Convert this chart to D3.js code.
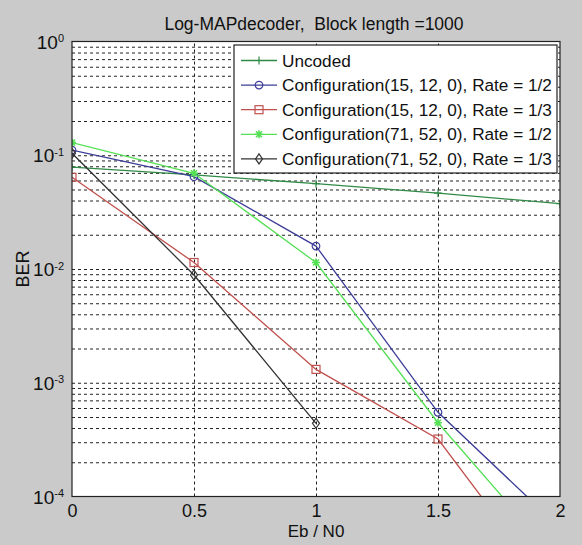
<!DOCTYPE html>
<html><head><meta charset="utf-8">
<script src="https://cdn.jsdelivr.net/npm/d3@7"></script>
<style>
html,body{margin:0;padding:0;background:#cacaca;}
svg{display:block;font-family:"Liberation Sans",Arial,sans-serif;}
</style></head><body>
<svg id="c" width="582" height="545"></svg>
<script>
const xValues = [0, 0.5, 1, 1.5, 2];
const xTicks = [0, 0.5, 1, 1.5, 2];
const yTickExps = [0, -1, -2, -3, -4];
const seriesNames = [
  "Uncoded",
  "Configuration(15, 12, 0), Rate = 1/2",
  "Configuration(15, 12, 0), Rate = 1/3",
  "Configuration(71, 52, 0), Rate = 1/2",
  "Configuration(71, 52, 0), Rate = 1/3"
];
const uncoded      = [0.0786, 0.0671, 0.0563, 0.0464, 0.0375];
const cfg15r12     = [0.111, 0.0648, 0.0159, 5.5e-4, 5.3e-5];
const cfg15r13     = [0.064, 0.0114, 0.00131, 3.2e-4, 1.2e-5];
const cfg71r12     = [0.129, 0.0694, 0.0114, 4.45e-4, 2.6e-5];
const cfg71r13     = [0.104, 0.00886, 4.4e-4];
const seriesColors = ["#2f8a45", "#3d3d99", "#c0504d", "#55e055", "#333333"];
const seriesMarkers = ["plus", "circle", "square", "star", "diamond"];
const seriesValues = [uncoded, cfg15r12, cfg15r13, cfg71r12, cfg71r13];

const L = 72, R = 560, T = 41.5, B = 496.5;
const svg = d3.select("#c");
const x = d3.scaleLinear().domain([0, 2]).range([L, R]);
const y = d3.scaleLog().domain([1e-4, 1]).range([B, T]);

svg.append("rect").attr("x", L).attr("y", T).attr("width", R - L).attr("height", B - T).attr("fill", "#fff");

const minor = [];
for (let d = -4; d < 0; d++) for (let k = 1; k <= 9; k++) minor.push(k * Math.pow(10, d));

const gy = svg.append("g").attr("transform", `translate(${L},0)`)
  .call(d3.axisLeft(y).tickValues(minor.filter(v => v > 1e-4)).tickSize(-(R - L)).tickFormat(""));
gy.select(".domain").remove();
gy.selectAll("line").attr("stroke", "#222").attr("stroke-width", 1).attr("stroke-dasharray", "3,3");

const gx = svg.append("g").attr("transform", `translate(0,${B})`)
  .call(d3.axisBottom(x).tickValues([0.5, 1, 1.5]).tickSize(-(B - T)).tickFormat(""));
gx.select(".domain").remove();
gx.selectAll("line").attr("stroke", "#222").attr("stroke-width", 1).attr("stroke-dasharray", "3,3");

svg.append("clipPath").attr("id", "clip").append("rect")
  .attr("x", L).attr("y", T).attr("width", R - L).attr("height", B - T);

function marker(g, type, cx, cy, color) {
  const s = g.append("g").attr("transform", `translate(${cx},${cy})`)
    .attr("fill", "none").attr("stroke", color).attr("stroke-width", 1.2);
  if (type === "circle") s.append("circle").attr("r", 3.8);
  else if (type === "square") s.append("rect").attr("x", -4).attr("y", -4).attr("width", 8).attr("height", 8);
  else if (type === "diamond") s.append("path").attr("d", "M0,-5L3.5,0L0,5L-3.5,0Z");
  else if (type === "plus") s.append("path").attr("d", "M-4,0H4M0,-4V4");
  else if (type === "star") s.append("path").attr("d", "M-4,0H4M0,-4V4M-3,-3L3,3M-3,3L3,-3").attr("stroke-width", 1.6);
}

const line = d3.line().x(d => x(d[0])).y(d => y(d[1]));
const plot = svg.append("g").attr("clip-path", "url(#clip)");
seriesValues.forEach((vals, i) => {
  const pts = vals.map((v, j) => [xValues[j], v]);
  plot.append("path").attr("d", line(pts)).attr("fill", "none")
    .attr("stroke", seriesColors[i]).attr("stroke-width", 1.3);
  pts.forEach(p => marker(plot, seriesMarkers[i], x(p[0]), y(p[1]), seriesColors[i]));
});

svg.append("rect").attr("x", L).attr("y", T).attr("width", R - L).attr("height", B - T)
  .attr("fill", "none").attr("stroke", "#222").attr("stroke-width", 1.2);

const yl = svg.append("g").attr("transform", `translate(${L},0)`)
  .call(d3.axisLeft(y).tickValues(yTickExps.map(e => Math.pow(10, e))).tickSize(0).tickPadding(8).tickFormat(""));
yl.select(".domain").remove();
yl.selectAll(".tick").each(function(d) {
  const e = Math.round(Math.log10(d));
  const t = d3.select(this).select("text").attr("font-size", 19).attr("fill", "#111")
    .attr("font-family", "Liberation Sans, Arial, sans-serif").attr("dy", "0.35em");
  t.append("tspan").text("10");
  t.append("tspan").attr("dy", "-0.6em").attr("font-size", 11).text(String(e));
});

const xl = svg.append("g").attr("transform", `translate(0,${B})`)
  .call(d3.axisBottom(x).tickValues(xTicks).tickSize(0).tickPadding(8).tickFormat(d3.format("")));
xl.select(".domain").remove();
xl.selectAll("text").attr("font-size", 18).attr("fill", "#111").attr("font-family", "Liberation Sans, Arial, sans-serif");

svg.append("text").attr("x", (L + R) / 2).attr("y", 537).attr("text-anchor", "middle")
  .attr("font-size", 17).attr("fill", "#111").text("Eb / N0");
svg.append("text").attr("transform", `translate(29,${(T + B) / 2}) rotate(-90)`).attr("text-anchor", "middle")
  .attr("font-size", 18).attr("fill", "#111").text("BER");
svg.append("text").attr("x", 314).attr("y", 30).attr("text-anchor", "middle")
  .attr("font-size", 17.5).attr("fill", "#111").style("white-space", "pre").text("Log-MAPdecoder,  Block length =1000");

const lg = svg.append("g");
const lx = 234, ly = 45, lw = 323, lh = 128;
lg.append("rect").attr("x", lx).attr("y", ly).attr("width", lw).attr("height", lh)
  .attr("fill", "#fff").attr("stroke", "#222").attr("stroke-width", 1.2);
seriesNames.forEach((n, i) => {
  const cy = 60.5 + i * 24.6;
  lg.append("line").attr("x1", 241).attr("x2", 277).attr("y1", cy).attr("y2", cy)
    .attr("stroke", seriesColors[i]).attr("stroke-width", 1.3);
  marker(lg, seriesMarkers[i], 259, cy, seriesColors[i]);
  lg.append("text").attr("x", 282).attr("y", cy).attr("dy", "0.36em")
    .attr("font-size", 17.2).attr("fill", "#111").text(n);
});
</script>
</body></html>
